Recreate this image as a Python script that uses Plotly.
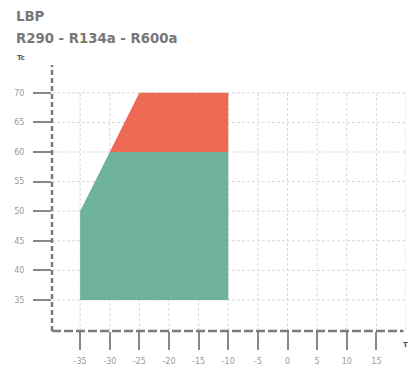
import plotly.graph_objects as go

# Data
green_x = [-35, -35, -30, -10, -10]
green_y = [35, 50, 60, 60, 35]
red_x = [-30, -25, -10, -10]
red_y = [60, 70, 70, 60]
x_ticks = [-35, -30, -25, -20, -15, -10, -5, 0, 5, 10, 15]
y_ticks = [35, 40, 45, 50, 55, 60, 65, 70]
x_grid = [-35, -30, -25, -20, -15, -10, -5, 0, 5, 10, 15, 20]
title1 = "LBP"
title2 = "R290 - R134a - R600a"

XMIN, XMAX = -39.75, 20.0
YMIN, YMAX = 29.76, 74.7
PW, PH = 353.6, 266.0

fig = go.Figure()
fig.add_trace(go.Scatter(x=green_x, y=green_y, fill="toself", mode="lines",
                         line=dict(width=0), fillcolor="#6FB29A", hoverinfo="skip"))
fig.add_trace(go.Scatter(x=red_x, y=red_y, fill="toself", mode="lines",
                         line=dict(width=0), fillcolor="#ED6B55", hoverinfo="skip"))

shapes = []
grid_style = dict(color="#d9d9d9", width=1, dash="3px,2px")
for gx in x_grid:
    shapes.append(dict(type="line", xref="x", yref="y", x0=gx, x1=gx, y0=YMIN, y1=70,
                       line=grid_style, layer="below"))
for gy in y_ticks:
    shapes.append(dict(type="line", xref="x", yref="y", x0=XMIN, x1=XMAX, y0=gy, y1=gy,
                       line=grid_style, layer="below"))
# dashed axis lines
shapes.append(dict(type="line", xref="paper", yref="paper", x0=0, x1=0, y0=0, y1=1,
                   line=dict(color="#7a7a7a", width=2.5, dash="5px,3px"), layer="above"))
shapes.append(dict(type="line", xref="paper", yref="paper", x0=0, x1=0.993, y0=0, y1=0,
                   line=dict(color="#7a7a7a", width=2.5, dash="9px,3px"), layer="above"))


def px_x(px):
    return (px - 52) / PW


def px_y(py):
    return (331 - py) / PH


font_family = "DejaVu Sans"
annotations = [
    dict(text=f"<b>{title1}</b>", xref="paper", yref="paper", x=px_x(15), y=px_y(16),
         xanchor="left", yanchor="middle", showarrow=False, borderpad=0,
         font=dict(family=font_family, size=13.3, color="#777777")),
    dict(text=f"<b>{title2}</b>", xref="paper", yref="paper", x=px_x(15), y=px_y(38),
         xanchor="left", yanchor="middle", showarrow=False, borderpad=0,
         font=dict(family=font_family, size=13.3, color="#777777")),
    dict(text="<b>Tc</b>", xref="paper", yref="paper", x=px_x(16), y=px_y(58),
         xanchor="left", yanchor="middle", showarrow=False, borderpad=0,
         font=dict(family=font_family, size=7, color="#555555")),
    dict(text="<b>T</b>", xref="paper", yref="paper", x=px_x(405), y=px_y(345),
         xanchor="center", yanchor="middle", showarrow=False, borderpad=0,
         font=dict(family=font_family, size=7, color="#555555")),
]

fig.update_layout(
    width=410, height=374,
    margin=dict(l=52, r=4.4, t=65, b=43, autoexpand=False),
    paper_bgcolor="white", plot_bgcolor="white",
    showlegend=False,
    shapes=shapes,
    annotations=annotations,
    font=dict(family=font_family),
)
fig.update_xaxes(range=[XMIN, XMAX], tickvals=x_ticks, ticktext=[str(v) for v in x_ticks],
                 showgrid=False, zeroline=False, showline=False, automargin=False,
                 ticks="outside", ticklen=18, tickwidth=1.5, tickcolor="#888888",
                 ticklabelstandoff=4,
                 tickfont=dict(family=font_family, size=8, color="#9a9a9a"))
fig.update_yaxes(range=[YMIN, YMAX], tickvals=y_ticks, ticktext=[str(v) for v in y_ticks],
                 showgrid=False, zeroline=False, showline=False, automargin=False,
                 ticks="outside", ticklen=18, tickwidth=1.5, tickcolor="#888888",
                 ticklabelstandoff=7,
                 tickfont=dict(family=font_family, size=8, color="#9a9a9a"))

fig.write_html("out.html", config={"displayModeBar": False},
               post_script="document.body.style.margin='0';document.body.style.overflow='hidden';")
